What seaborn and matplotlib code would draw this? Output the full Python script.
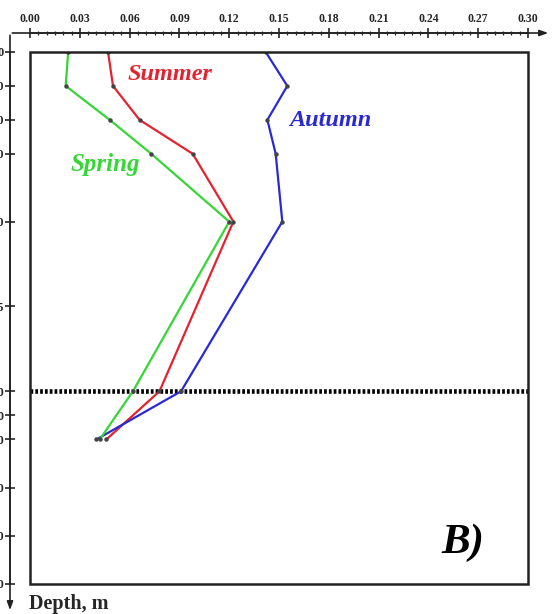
import numpy as np
import pandas as pd
import matplotlib
matplotlib.use("Agg")
import matplotlib.pyplot as plt
from matplotlib.patches import Rectangle
import seaborn as sns

# ---- data ----
depths = [0, 10, 20, 30, 50, 100, 120]
summer = [0.047, 0.050, 0.066, 0.098, 0.1225, 0.078, 0.046]
autumn = [0.142, 0.155, 0.143, 0.148, 0.152, 0.091, 0.040]
spring = [0.023, 0.0215, 0.048, 0.073, 0.120, 0.062, 0.042]
season_names = ["Summer", "Autumn", "Spring"]
x_ticks = [0.00, 0.03, 0.06, 0.09, 0.12, 0.15, 0.18, 0.21, 0.24, 0.27, 0.30]
x_tick_labels = ["0.00", "0.03", "0.06", "0.09", "0.12", "0.15", "0.18", "0.21", "0.24", "0.27", "0.30"]
y_ticks = [0, 10, 20, 30, 50, 75, 100, 110, 120, 140, 160, 180]
thermocline_depth = 100
# depth axis is drawn with two linear pieces (break at 100 m)
scale_break = 100
upper_rate = 3.39
lower_rate = 2.407

colors = {"Summer": "#e3232f", "Autumn": "#2a2ad4", "Spring": "#36d636"}

df = pd.DataFrame({
    "depth": depths * 3,
    "value": summer + autumn + spring,
    "season": [s for s in season_names for _ in depths],
})

sns.set_style("white")
plt.rcParams["font.family"] = ["Liberation Serif", "DejaVu Serif"]

def fwd(d):
    d = np.asarray(d, dtype=float)
    return np.where(d <= scale_break, d * upper_rate,
                    scale_break * upper_rate + (d - scale_break) * lower_rate)

def inv(p):
    p = np.asarray(p, dtype=float)
    b = scale_break * upper_rate
    return np.where(p <= b, p / upper_rate, scale_break + (p - b) / lower_rate)

W, H = 552, 614
fig = plt.figure(figsize=(W / 100, H / 100), dpi=100)
ax = fig.add_axes([30 / W, 1 - 584 / H, 498 / W, 532 / H])
ax.set_yscale("function", functions=(fwd, inv))

sns.lineplot(data=df, x="value", y="depth", hue="season", palette=colors,
             orient="y", sort=True, estimator=None, legend=False,
             marker="o", markersize=3.2, mfc="#444444", mec="none",
             linewidth=1.6, ax=ax)

ax.axhline(thermocline_depth, color="black", lw=3.3, ls=(0, (0.6, 0.45)), zorder=1)

ax.set_xlim(0, 0.30)
ax.set_ylim(180, 0)

# inner frame
ax.add_patch(Rectangle((0, 0), 1, 1, transform=ax.transAxes, fill=False,
                       lw=1.8, edgecolor="#222222", clip_on=False, zorder=5))
ax.spines["right"].set_visible(False)
ax.spines["bottom"].set_visible(False)
ax.spines["top"].set_position(("outward", 19 * 0.72))
ax.spines["left"].set_position(("outward", 20 * 0.72))
for s in ("top", "left"):
    ax.spines[s].set_linewidth(1.2)
    ax.spines[s].set_color("#222222")

ax.xaxis.set_ticks_position("top")
ax.xaxis.set_label_position("top")
ax.yaxis.set_ticks_position("left")
ax.set_xticks(x_ticks)
ax.set_xticklabels(x_tick_labels)
ax.set_xticks(np.arange(0, 0.3001, 0.005), minor=True)
ax.set_yticks(y_ticks)
ax.set_yticklabels([str(v) for v in y_ticks])
ax.tick_params(axis="x", which="major", direction="inout", length=7, width=1.2,
               pad=2.5, labelsize=8.5)
ax.tick_params(axis="x", which="minor", direction="inout", length=3, width=0.9)
ax.tick_params(axis="y", which="major", direction="inout", length=7, width=1.2,
               pad=1, labelsize=9)
ax.tick_params(axis="y", which="minor", left=False)
for lab in ax.get_xticklabels() + ax.get_yticklabels():
    lab.set_fontweight("bold")
ax.set_xlabel("")
ax.set_ylabel("")

# outer axis lines with arrows
ax.annotate("", xy=(551 / W, 1 - 33 / H), xytext=(9.5 / W, 1 - 33 / H),
            xycoords="figure fraction", textcoords="figure fraction",
            arrowprops=dict(arrowstyle="-|>,head_length=0.5,head_width=0.18",
                            lw=1.2, color="#222222"))
ax.annotate("", xy=(10 / W, 1 - 613 / H), xytext=(10 / W, 1 - 32.5 / H),
            xycoords="figure fraction", textcoords="figure fraction",
            arrowprops=dict(arrowstyle="-|>,head_length=0.5,head_width=0.18",
                            lw=1.2, color="#222222"))

# series labels
ax.text(0.281, 0.957, "Summer", transform=ax.transAxes, color=colors["Summer"],
        fontsize=17.5, fontweight="bold", fontstyle="italic", ha="center", va="center")
ax.text(0.604, 0.872, "Autumn", transform=ax.transAxes, color=colors["Autumn"],
        fontsize=17.5, fontweight="bold", fontstyle="italic", ha="center", va="center")
ax.text(0.151, 0.788, "Spring", transform=ax.transAxes, color=colors["Spring"],
        fontsize=18, fontweight="bold", fontstyle="italic", ha="center", va="center")
ax.text(0.869, 0.077, "B)", transform=ax.transAxes, color="black",
        fontsize=31, fontweight="bold", fontstyle="italic", ha="center", va="center")

fig.text(29 / W, 1 - 604 / H, "Depth, m", fontsize=14.5, fontweight="bold",
         ha="left", va="center")

fig.savefig("out.png", dpi=100, facecolor="white")
